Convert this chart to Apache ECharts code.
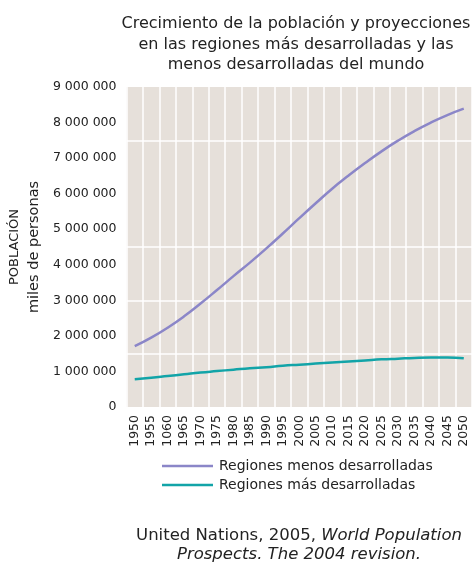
<!DOCTYPE html>
<html>
<head>
<meta charset="utf-8">
<script src="https://cdn.jsdelivr.net/npm/echarts@6/dist/echarts.min.js"></script>
<style>
  html, body { margin: 0; padding: 0; background: #ffffff; }
  #chart { width: 473px; height: 563px; }
</style>
</head>
<body>
<div id="chart"></div>
<script>
// Years along the x axis (label text as printed)
const years = ['1950','1955','1060','1965','1970','1975','1980','1985','1990','1995','2000',
               '2005','2010','2015','2020','2025','2030','2035','2040','2045','2050'];

// Population, thousands of people
const menosDesarrolladas = [1710000, 1950000, 2230000, 2550000, 2910000, 3290000, 3680000,
                            4060000, 4460000, 4880000, 5310000, 5730000, 6140000, 6510000,
                            6860000, 7190000, 7490000, 7760000, 8000000, 8210000, 8390000];
const masDesarrolladas = [780000, 820000, 870000, 920000, 970000, 1010000, 1050000,
                          1090000, 1120000, 1160000, 1190000, 1220000, 1250000, 1280000,
                          1310000, 1340000, 1360000, 1380000, 1390000, 1390000, 1370000];

// Horizontal guide lines drawn across the plot
const hGuides = [1500000, 3000000, 4500000, 7500000];

const seriesNames = ['Regiones menos desarrolladas', 'Regiones más desarrolladas'];
const colors = ['#8b86c8', '#12a4a8'];

const fmt = v => String(v).replace(/\B(?=(\d{3})+(?!\d))/g, ' ');
const FONT = '"DejaVu Sans", sans-serif';

const chart = echarts.init(document.getElementById('chart'), null, { renderer: 'canvas' });

chart.setOption({
  animation: false,
  backgroundColor: '#ffffff',
  textStyle: { fontFamily: FONT },
  title: {
    text: 'Crecimiento de la población y proyecciones\nen las regiones más desarrolladas y las\nmenos desarrolladas del mundo',
    left: 291,
    top: 9,
    textAlign: 'center',
    textStyle: { fontFamily: FONT, fontSize: 16, fontWeight: 'normal', color: '#222', lineHeight: 20.5 }
  },
  grid: { left: 125, right: 1, top: 87, bottom: 156 },
  legend: {
    orient: 'vertical',
    left: 157,
    top: 454,
    itemGap: 5,
    itemWidth: 51,
    itemHeight: 2.5,
    icon: 'rect',
    data: seriesNames,
    textStyle: { fontFamily: FONT, fontSize: 14, color: '#222', padding: [0, 0, 0, 1] }
  },
  xAxis: {
    type: 'category',
    data: years,
    boundaryGap: true,
    axisLine: { show: false },
    axisTick: { show: false },
    axisLabel: { interval: 0, rotate: 90, fontSize: 12.5, color: '#222', margin: 8, fontFamily: FONT },
    splitLine: { show: true, interval: 0, lineStyle: { color: '#ffffff', width: 1.5 } },
    splitArea: { show: true, areaStyle: { color: ['#e6e0da', '#e6e0da'] } }
  },
  yAxis: {
    type: 'value',
    min: 0,
    max: 9000000,
    interval: 1000000,
    axisLine: { show: false },
    axisTick: { show: false },
    splitLine: { show: false },
    axisLabel: { formatter: fmt, fontSize: 12.5, color: '#222', margin: 10, fontFamily: FONT },
    name: '{a|POBLACIÓN}\n{b|miles de personas}',
    nameLocation: 'middle',
    nameRotate: 90,
    nameGap: 77,
    nameTextStyle: {
      rich: {
        a: { fontSize: 13, color: '#222', fontFamily: FONT, lineHeight: 20 },
        b: { fontSize: 14.5, color: '#222', fontFamily: FONT, lineHeight: 20 }
      }
    }
  },
  series: [
    {
      name: seriesNames[0],
      type: 'line',
      data: menosDesarrolladas,
      smooth: true,
      showSymbol: false,
      color: colors[0],
      lineStyle: { color: colors[0], width: 2.5 },
      z: 3,
      markLine: {
        silent: true,
        symbol: 'none',
        label: { show: false },
        lineStyle: { color: '#ffffff', width: 1.5, type: 'solid' },
        data: hGuides.map(v => ({ yAxis: v })),
        z: 1
      }
    },
    {
      name: seriesNames[1],
      type: 'line',
      data: masDesarrolladas,
      smooth: true,
      showSymbol: false,
      color: colors[1],
      lineStyle: { color: colors[1], width: 2.5 },
      z: 3
    }
  ],
  graphic: [
    {
      type: 'text',
      x: 299,
      y: 526,
      style: {
        text: 'United Nations, 2005, {i|World Population}\n{i|Prospects. The 2004 revision.}',
        align: 'center',
        verticalAlign: 'top',
        fill: '#222',
        font: '16.5px ' + FONT,
        lineHeight: 19,
        rich: { i: { fontStyle: 'italic', fontSize: 16.5, fontFamily: FONT, fill: '#222', lineHeight: 19 } }
      }
    }
  ]
});
</script>
</body>
</html>
